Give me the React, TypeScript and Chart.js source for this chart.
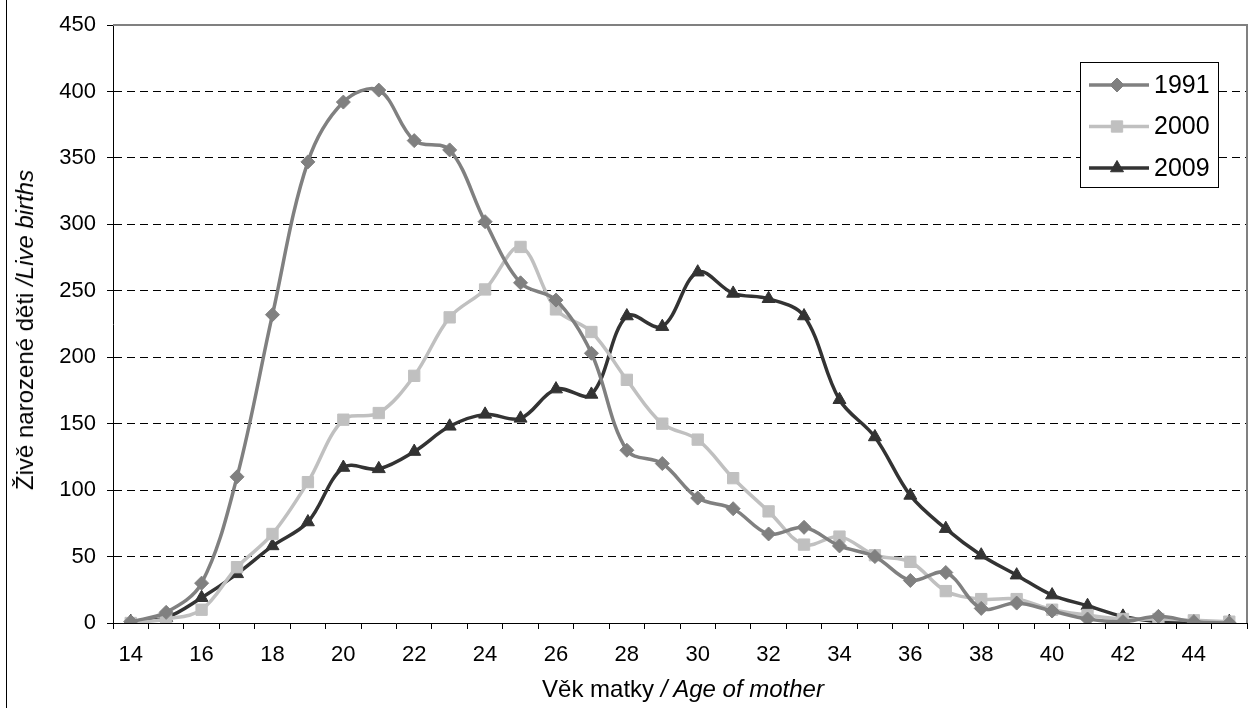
import React, { useEffect, useRef } from 'react';
import { Chart, registerables } from 'chart.js';
import { drawPoint } from 'chart.js/helpers';

Chart.register(...registerables);

// ---- data ----
const ages = [14, 15, 16, 17, 18, 19, 20, 21, 22, 23, 24, 25, 26, 27, 28, 29, 30, 31, 32, 33, 34, 35, 36, 37, 38, 39, 40, 41, 42, 43, 44, 45];
const births1991 = [1, 8, 30, 110, 232, 347, 392, 401, 363, 356, 302, 256, 243, 203, 130, 120, 94, 86, 67, 72, 58, 50, 32, 38, 11, 15, 9, 3, 1, 5, 1, 0];
const births2000 = [0, 3, 10, 42, 67, 106, 153, 158, 186, 230, 251, 283, 236, 219, 183, 150, 138, 109, 84, 59, 65, 51, 46, 24, 18, 18, 10, 6, 3, 3, 2, 1];
const births2009 = [1, 4, 19, 37, 58, 76, 117, 116, 129, 148, 157, 154, 176, 172, 231, 223, 264, 248, 244, 231, 168, 140, 96, 71, 51, 36, 21, 13, 5, 1, 1, 1];
const seriesLabels = ['1991', '2000', '2009'];
const yMin = 0;
const yMax = 450;
const yStep = 50;
const xTitleMain = 'Věk matky ';
const xTitleItalic = '/ Age of mother';
const yTitleMain = 'Živě narozené děti ';
const yTitleItalic = '/Live births';

const FONT = "Arial, 'Liberation Sans', sans-serif";

const frameLines = {
  id: 'frameLines',
  afterDraw(chart: any) {
    const { ctx, chartArea } = chart;
    ctx.save();
    ctx.strokeStyle = '#808080';
    ctx.lineWidth = 2;
    ctx.beginPath();
    ctx.moveTo(chartArea.left, chartArea.top);
    ctx.lineTo(chartArea.right, chartArea.top);
    ctx.lineTo(chartArea.right, chartArea.bottom);
    ctx.stroke();
    ctx.restore();
  },
};

const boxLegend = {
  id: 'boxLegend',
  afterDraw(chart: any) {
    const { ctx, chartArea } = chart;
    const left = Math.round(chartArea.right - 167);
    const top = Math.round(chartArea.top + 37);
    const w = 138;
    const h = 125;
    ctx.save();
    ctx.fillStyle = '#ffffff';
    ctx.fillRect(left, top, w, h);
    ctx.strokeStyle = '#000000';
    ctx.lineWidth = 1;
    ctx.strokeRect(left + 0.5, top + 0.5, w, h);
    chart.data.datasets.forEach((ds: any, i: number) => {
      const y = top + 23 + i * 41.5;
      ctx.strokeStyle = ds.borderColor;
      ctx.lineWidth = ds.borderWidth;
      ctx.beginPath();
      ctx.moveTo(left + 9, y);
      ctx.lineTo(left + 69, y);
      ctx.stroke();
      ctx.fillStyle = ds.pointBackgroundColor;
      ctx.strokeStyle = ds.pointBorderColor;
      ctx.lineWidth = 1;
      drawPoint(ctx, { pointStyle: ds.pointStyle, radius: ds.pointRadius, rotation: 0, borderWidth: 1 } as any, left + 37, y);
      ctx.fillStyle = '#000000';
      ctx.font = `25px ${FONT}`;
      ctx.textBaseline = 'middle';
      ctx.textAlign = 'left';
      ctx.fillText(ds.label, left + 74, y + 1);
    });
    ctx.restore();
  },
};

export default function App() {
  const canvasRef = useRef<HTMLCanvasElement | null>(null);

  useEffect(() => {
    if (!canvasRef.current) return;
    const mk = (label: string, data: number[], color: string, style: string, radius: number) => ({
      label,
      data,
      borderColor: color,
      backgroundColor: color,
      pointBackgroundColor: color,
      pointBorderColor: color,
      pointStyle: style,
      pointRadius: radius,
      pointBorderWidth: 1,
      borderWidth: 3.5,
      tension: 0.35,
      fill: false,
    });
    const chart = new Chart(canvasRef.current, {
      type: 'line',
      data: {
        labels: ages.map(String),
        datasets: [
          mk(seriesLabels[0], births1991, '#808080', 'rectRot', 7),
          mk(seriesLabels[1], births2000, '#c0c0c0', 'rect', 8),
          mk(seriesLabels[2], births2009, '#333333', 'triangle', 7.5),
        ],
      },
      options: {
        animation: false,
        responsive: true,
        maintainAspectRatio: false,
        layout: { padding: { left: 0, right: 3, top: 25, bottom: 0 } },
        plugins: {
          legend: { display: false },
          tooltip: { enabled: false },
        },
        scales: {
          x: {
            type: 'category',
            offset: true,
            afterFit: (s: any) => { s.height = 85; },
            grid: {
              offset: true,
              drawOnChartArea: false,
              drawTicks: true,
              tickLength: 6,
              color: '#000000',
              tickColor: '#000000',
            },
            border: { display: true, color: '#000000', width: 1 },
            ticks: {
              autoSkip: false,
              maxRotation: 0,
              minRotation: 0,
              padding: 13,
              color: '#000000',
              font: { family: FONT, size: 22 },
              callback: (_v: any, idx: number) => (idx % 2 === 0 ? String(ages[idx]) : ''),
            },
          },
          y: {
            min: yMin,
            max: yMax,
            afterFit: (s: any) => { s.width = 113; },
            grid: {
              color: (c: any) => (c.tick && (c.tick.value === yMax || c.tick.value === yMin) ? 'rgba(0,0,0,0)' : '#000000'),
              lineWidth: 1,
              drawTicks: true,
              tickLength: 6,
              tickColor: '#000000',
              tickBorderDash: [],
            } as any,
            border: { display: true, color: '#000000', width: 1, dash: [8, 5] },
            ticks: {
              stepSize: yStep,
              padding: 11,
              color: '#000000',
              font: { family: FONT, size: 22 },
            },
          },
        },
      },
      plugins: [frameLines, boxLegend],
    } as any);
    return () => chart.destroy();
  }, []);

  return (
    <div style={{ position: 'absolute', left: 0, top: 0, width: 1256, height: 708, background: '#ffffff', overflow: 'hidden' }}>
      <canvas ref={canvasRef} />
      <div style={{ position: 'absolute', left: 6, top: 0, width: 1, height: 708, background: '#000000' }} />
      <div
        style={{
          position: 'absolute',
          left: 25,
          top: 330,
          transform: 'translate(-50%, -50%) rotate(-90deg)',
          whiteSpace: 'nowrap',
          fontFamily: FONT,
          fontSize: 24,
          lineHeight: 1,
          color: '#000000',
        }}
      >
        {yTitleMain}
        <i>{yTitleItalic}</i>
      </div>
      <div
        style={{
          position: 'absolute',
          left: 113,
          width: 1140,
          top: 677,
          textAlign: 'center',
          whiteSpace: 'nowrap',
          fontFamily: FONT,
          fontSize: 24,
          lineHeight: 1,
          color: '#000000',
        }}
      >
        {xTitleMain}
        <i>{xTitleItalic}</i>
      </div>
    </div>
  );
}
